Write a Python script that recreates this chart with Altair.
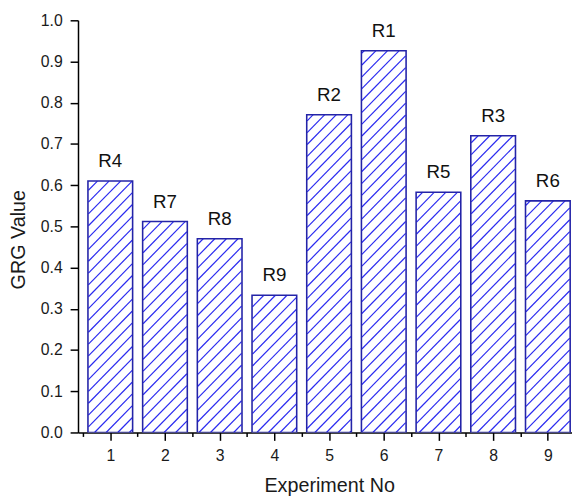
import altair as alt
import pandas as pd

# ---- data ----
experiments = [1, 2, 3, 4, 5, 6, 7, 8, 9]
grg_values = [0.610, 0.512, 0.470, 0.333, 0.771, 0.926, 0.583, 0.720, 0.562]
ranks = ["R4", "R7", "R8", "R9", "R2", "R1", "R5", "R3", "R6"]
y_ticks = [0.0, 0.1, 0.2, 0.3, 0.4, 0.5, 0.6, 0.7, 0.8, 0.9, 1.0]
y_minor = [0.05, 0.15, 0.25, 0.35, 0.45, 0.55, 0.65, 0.75, 0.85, 0.95]
x_ticks = [1, 2, 3, 4, 5, 6, 7, 8, 9]
x_minor = [0.5, 1.5, 2.5, 3.5, 4.5, 5.5, 6.5, 7.5, 8.5]

# ---- layout ----
PLOT_W = 501          # plot area is cut at the right edge, like the reference
PLOT_H = 418
UX = 56.6             # pixels per experiment unit
X_MIN = 0.5
X_MAX = X_MIN + PLOT_W / UX
BAR_PX = 45.3
HATCH_STEP = 12.0
FONT = "Liberation Sans"
OUTLINE = "#2424a8"
HATCH = "#2a2af0"

df = pd.DataFrame({"exp": experiments, "grg": grg_values, "rank": ranks})

# hatch segments ("/" lines at 45 degrees) clipped to each bar rectangle
seg = []
for e, v in zip(experiments, grg_values):
    X0 = (e - X_MIN) * UX - BAR_PX / 2
    X1 = X0 + BAR_PX
    H = v * PLOT_H
    n0 = int((0 - X1) // HATCH_STEP) - 1
    n1 = int((H - X0) // HATCH_STEP) + 2
    for n in range(n0, n1):
        K = n * HATCH_STEP
        xa = max(X0, -K)
        xb = min(X1, H - K)
        if xb - xa > 0.5:
            seg.append({
                "x": xa / UX + X_MIN, "y": (xa + K) / PLOT_H,
                "x2": xb / UX + X_MIN, "y2": (xb + K) / PLOT_H,
            })
hatch_df = pd.DataFrame(seg)

xscale = alt.Scale(domain=[X_MIN, X_MAX], nice=False, zero=False)
yscale = alt.Scale(domain=[0, 1.0], nice=False)

x_axis = alt.Axis(
    values=x_ticks,
    format="d",
    tickSize=8,
    labelPadding=7,
    labelOverlap=False,
    labelFlush=False,
    orient="bottom",
    title="Experiment No",
    titleX=(9 * UX) / 2,
    titleY=54,
    titleBaseline="middle",
    titleAlign="center",
    titleAnchor="start",
)
# minor x ticks: a second bottom axis on the same scale, ticks only
x_minor_axis = alt.Axis(
    values=x_minor,
    labels=False,
    tickSize=4,
    domain=False,
    title=None,
    orient="bottom",
    offset=0,
)
y_axis = alt.Axis(
    values=y_ticks + y_minor,
    labelExpr="abs(datum.value * 10 - round(datum.value * 10)) < 0.001 ? format(datum.value, '.1f') : ''",
    tickSize={"condition": {"test": "abs(datum.value * 10 - round(datum.value * 10)) < 0.001", "value": 8}, "value": 4},
    labelPadding=8,
    labelOverlap=False,
    labelFlush=False,
    title="GRG Value",
    titleX=-60,
    titleY=222,
    titleAngle=-90,
    titleBaseline="middle",
    titleAlign="center",
    titleAnchor="start",
)

base = alt.Chart(df)

fill_bars = base.mark_bar(size=BAR_PX, color="white", clip=True).encode(
    x=alt.X("exp:Q", scale=xscale, axis=x_axis),
    y=alt.Y("grg:Q", scale=yscale, axis=y_axis),
)

hatch = alt.Chart(hatch_df).mark_rule(color=HATCH, strokeWidth=1.2, clip=True).encode(
    x=alt.X("x:Q", scale=xscale, axis=x_minor_axis),
    y=alt.Y("y:Q", scale=yscale),
    x2="x2:Q",
    y2="y2:Q",
)

outline = base.mark_bar(
    size=BAR_PX, fillOpacity=0, stroke=OUTLINE, strokeWidth=1.6, clip=True
).encode(
    x=alt.X("exp:Q", scale=xscale, axis=None),
    y=alt.Y("grg:Q", scale=yscale),
)

labels = base.mark_text(
    font=FONT, fontSize=19, color="#111111", baseline="middle", dy=-20, clip=True
).encode(
    x=alt.X("exp:Q", scale=xscale, axis=None),
    y=alt.Y("grg:Q", scale=yscale),
    text="rank:N",
)

chart = alt.layer(fill_bars, hatch, outline, labels).resolve_axis(
    x="independent"
).properties(
    width=PLOT_W,
    height=PLOT_H,
    autosize=alt.AutoSizeParams(type="none"),
    padding={"left": 71, "top": 9, "right": 0, "bottom": 65},
).configure_view(
    stroke=None
).configure_axis(
    grid=False,
    domainColor="black",
    domainWidth=1.5,
    tickColor="black",
    tickWidth=1.5,
    labelFont=FONT,
    labelFontSize=16,
    labelColor="#1a1a1a",
    titleFont=FONT,
    titleFontSize=20,
    titleFontWeight="normal",
    titleColor="#1a1a1a",
)

chart.save("out.html", embed_options={"renderer": "svg", "actions": False})
